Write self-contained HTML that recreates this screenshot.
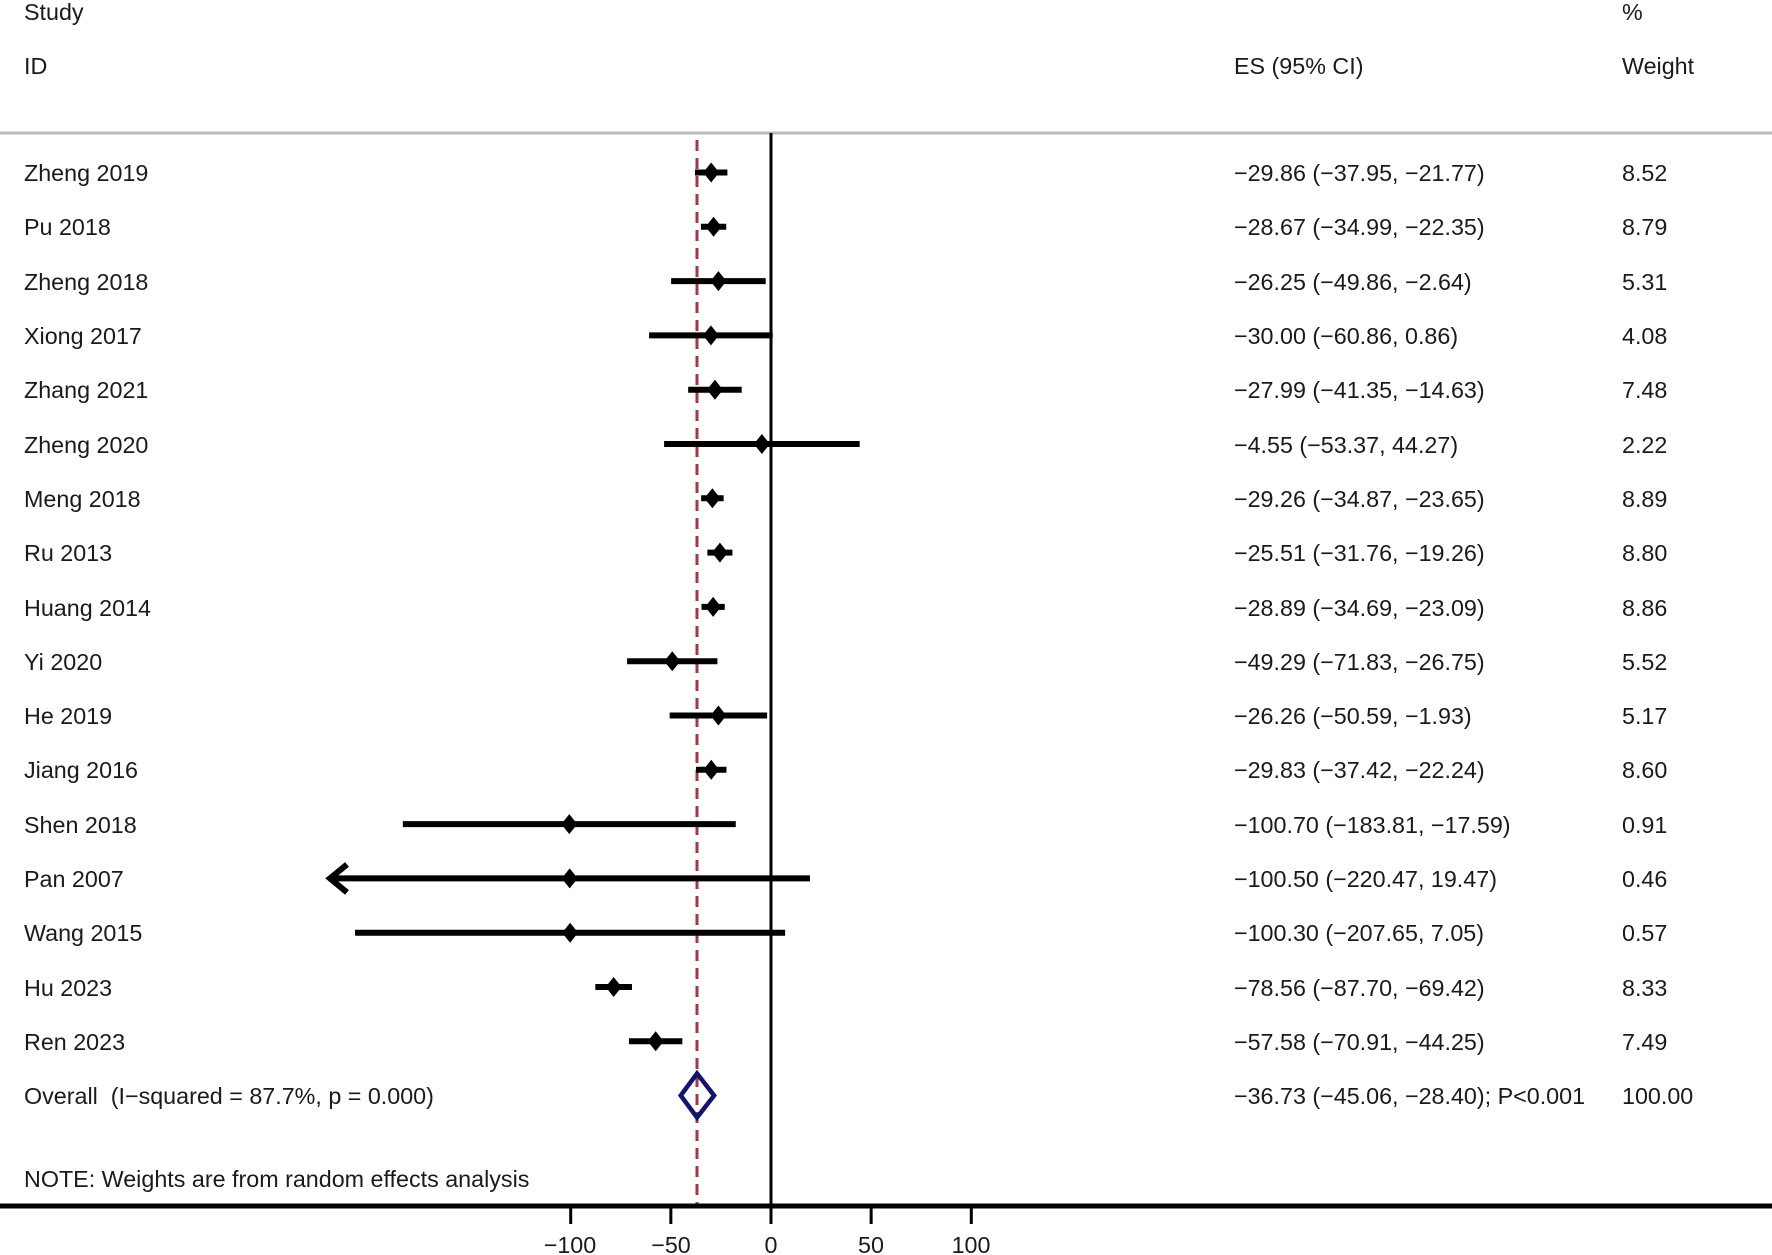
<!DOCTYPE html>
<html><head><meta charset="utf-8"><style>
html,body{margin:0;padding:0;background:#fff}
svg{display:block}
text{font-family:"Liberation Sans",sans-serif;font-size:23.3px;fill:#1a1a1a}
</style></head><body>
<svg id="s" width="1772" height="1255" viewBox="0 0 1772 1255" xmlns="http://www.w3.org/2000/svg">
<text x="24" y="20">Study</text>
<text x="24" y="74">ID</text>
<text x="1234" y="74">ES (95% CI)</text>
<text x="1622" y="20">%</text>
<text x="1622" y="74">Weight</text>
<line x1="0" y1="133" x2="1772" y2="133" stroke="#bbb" stroke-width="3"/>
<g id="g"></g>
<g id="t">
<text x="24" y="181">Zheng 2019</text><text x="1234" y="181">−29.86 (−37.95, −21.77)</text><text x="1622" y="181">8.52</text>
<text x="24" y="235">Pu 2018</text><text x="1234" y="235">−28.67 (−34.99, −22.35)</text><text x="1622" y="235">8.79</text>
<text x="24" y="290">Zheng 2018</text><text x="1234" y="290">−26.25 (−49.86, −2.64)</text><text x="1622" y="290">5.31</text>
<text x="24" y="344">Xiong 2017</text><text x="1234" y="344">−30.00 (−60.86, 0.86)</text><text x="1622" y="344">4.08</text>
<text x="24" y="398">Zhang 2021</text><text x="1234" y="398">−27.99 (−41.35, −14.63)</text><text x="1622" y="398">7.48</text>
<text x="24" y="453">Zheng 2020</text><text x="1234" y="453">−4.55 (−53.37, 44.27)</text><text x="1622" y="453">2.22</text>
<text x="24" y="507">Meng 2018</text><text x="1234" y="507">−29.26 (−34.87, −23.65)</text><text x="1622" y="507">8.89</text>
<text x="24" y="561">Ru 2013</text><text x="1234" y="561">−25.51 (−31.76, −19.26)</text><text x="1622" y="561">8.80</text>
<text x="24" y="616">Huang 2014</text><text x="1234" y="616">−28.89 (−34.69, −23.09)</text><text x="1622" y="616">8.86</text>
<text x="24" y="670">Yi 2020</text><text x="1234" y="670">−49.29 (−71.83, −26.75)</text><text x="1622" y="670">5.52</text>
<text x="24" y="724">He 2019</text><text x="1234" y="724">−26.26 (−50.59, −1.93)</text><text x="1622" y="724">5.17</text>
<text x="24" y="778">Jiang 2016</text><text x="1234" y="778">−29.83 (−37.42, −22.24)</text><text x="1622" y="778">8.60</text>
<text x="24" y="833">Shen 2018</text><text x="1234" y="833">−100.70 (−183.81, −17.59)</text><text x="1622" y="833">0.91</text>
<text x="24" y="887">Pan 2007</text><text x="1234" y="887">−100.50 (−220.47, 19.47)</text><text x="1622" y="887">0.46</text>
<text x="24" y="941">Wang 2015</text><text x="1234" y="941">−100.30 (−207.65, 7.05)</text><text x="1622" y="941">0.57</text>
<text x="24" y="996">Hu 2023</text><text x="1234" y="996">−78.56 (−87.70, −69.42)</text><text x="1622" y="996">8.33</text>
<text x="24" y="1050">Ren 2023</text><text x="1234" y="1050">−57.58 (−70.91, −44.25)</text><text x="1622" y="1050">7.49</text>
<text x="24" y="1104">Overall&#160; (I−squared = 87.7%, p = 0.000)</text><text x="1234" y="1104">−36.73 (−45.06, −28.40); P&lt;0.001</text><text x="1622" y="1104">100.00</text>
<text x="24" y="1187">NOTE: Weights are from random effects analysis</text>
<text x="570" y="1253" text-anchor="middle">−100</text>
<text x="671" y="1253" text-anchor="middle">−50</text>
<text x="771" y="1253" text-anchor="middle">0</text>
<text x="871" y="1253" text-anchor="middle">50</text>
<text x="971" y="1253" text-anchor="middle">100</text>
</g>
</svg>
<script>
var d=[[-29.86,-37.95,-21.77],[-28.67,-34.99,-22.35],[-26.25,-49.86,-2.64],[-30,-60.86,0.86],[-27.99,-41.35,-14.63],[-4.55,-53.37,44.27],[-29.26,-34.87,-23.65],[-25.51,-31.76,-19.26],[-28.89,-34.69,-23.09],[-49.29,-71.83,-26.75],[-26.26,-50.59,-1.93],[-29.83,-37.42,-22.24],[-100.7,-183.81,-17.59],[-100.5,-220.47,19.47],[-100.3,-207.65,7.05],[-78.56,-87.7,-69.42],[-57.58,-70.91,-44.25]];
function X(v){return 771+2.003*v;}
var h='';
h+='<line x1="771" y1="133" x2="771" y2="1206" stroke="#000" stroke-width="3"/>';
h+='<line x1="697" y1="140" x2="697" y2="1206" stroke="#a33a42" stroke-width="3" stroke-dasharray="11,7"/>';
h+='<line x1="0" y1="1206" x2="1772" y2="1206" stroke="#000" stroke-width="5"/>';
[-100,-50,0,50,100].forEach(function(v){h+='<line x1="'+X(v)+'" y1="1206" x2="'+X(v)+'" y2="1224" stroke="#000" stroke-width="3"/>';});
d.forEach(function(r,i){var y=172.5+54.3*i;var lo=Math.max(X(r[1]),328);
h+='<line x1="'+lo+'" y1="'+y+'" x2="'+X(r[2])+'" y2="'+y+'" stroke="#000" stroke-width="6"/>';
var c=X(r[0]);h+='<polygon points="'+(c-8)+','+y+' '+c+','+(y-10)+' '+(c+8)+','+y+' '+c+','+(y+10)+'" fill="#000"/>';
if(i==13)h+='<polyline points="347,'+(y-14)+' 330,'+y+' 347,'+(y+14)+'" fill="none" stroke="#000" stroke-width="6"/>';});
var y=1095.5;h+='<polygon points="'+X(-45.06)+','+y+' 697,'+(y-22)+' '+X(-28.4)+','+y+' 697,'+(y+22)+'" fill="none" stroke="#141470" stroke-width="4.5"/>';
document.getElementById('g').innerHTML=h;
</script>
</body></html>
